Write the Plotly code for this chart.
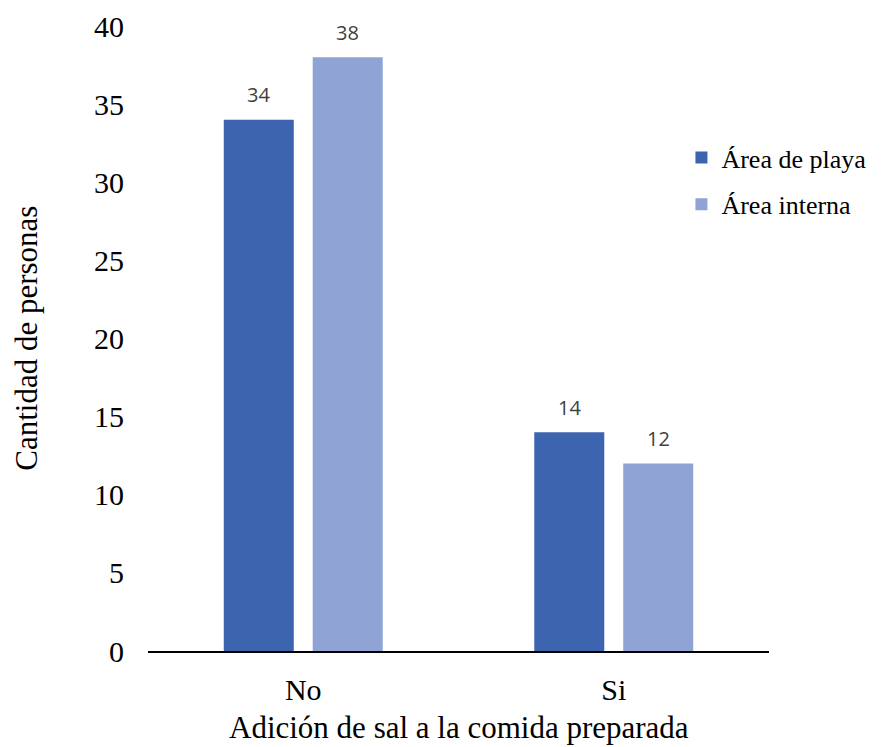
import plotly.graph_objects as go

categories = ["No", "Si"]
series_names = ["Área de playa", "Área interna"]
playa = [34, 14]
interna = [38, 12]
colors = ["#3D64AE", "#8FA4D5"]
x_title = "Adición de sal a la comida preparada"
y_title = "Cantidad de personas"

fig = go.Figure()
for i, (name, vals, col) in enumerate(zip(series_names, [playa, interna], colors)):
    fig.add_trace(go.Bar(x=categories, y=vals, name=name, marker_color=col,
                         marker_line_width=0, legendgroup=f"g{i}"))
    for c, v in zip(categories, vals):
        fig.add_annotation(x=c, y=v, xref="x", yref="y", text=str(v), showarrow=False,
                           xshift=(-44.5 if i == 0 else 44.5), yshift=25,
                           yanchor="middle",
                           font=dict(family="Open Sans, Liberation Sans", size=20, color="#404040"))

serif = "Liberation Serif, Times New Roman, serif"
fig.add_annotation(text=x_title, xref="paper", yref="paper", x=0.5, y=-0.122,
                   xanchor="center", yanchor="middle", showarrow=False,
                   font=dict(family=serif, size=31, color="black"))
fig.add_annotation(text=y_title, xref="paper", yref="paper", x=-0.196, y=0.5,
                   xanchor="center", yanchor="middle", showarrow=False, textangle=-90,
                   font=dict(family=serif, size=31, color="black"))

fig.update_layout(
    width=891, height=747,
    margin=dict(l=140, r=130, t=18, b=104, autoexpand=False),
    paper_bgcolor="white", plot_bgcolor="white",
    barmode="group", bargap=0.427, bargroupgap=0.213,
    font=dict(family=serif, size=30, color="black"),
    legend=dict(x=0.859, y=0.827, xanchor="left", yanchor="top",
                font=dict(size=26), itemwidth=30, tracegroupgap=10, traceorder="grouped",
                bgcolor="rgba(0,0,0,0)"),
    showlegend=True,
)
fig.update_xaxes(showline=True, linecolor="black", linewidth=1.5, ticks="", automargin=False,
                 tickfont=dict(size=30), ticklabelstandoff=11)
fig.update_yaxes(range=[0, 40], dtick=5, showgrid=False, zeroline=False, showline=False,
                 automargin=False, tickfont=dict(size=30), ticklabelstandoff=23)
fig.write_html("out.html")
